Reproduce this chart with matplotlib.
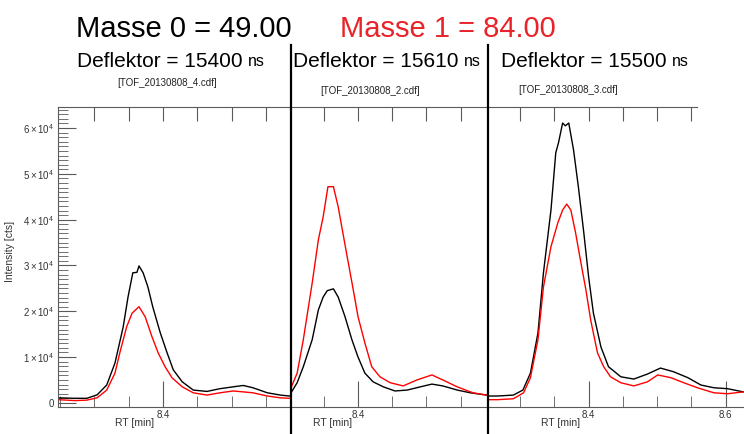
import numpy as np
import matplotlib
matplotlib.use("Agg")
import matplotlib.pyplot as plt
from matplotlib.lines import Line2D
from matplotlib.ticker import MultipleLocator, FixedLocator, FuncFormatter, NullLocator

plt.rcParams['font.family'] = ['Liberation Sans', 'DejaVu Sans']
plt.rcParams['mathtext.fontset'] = 'custom'
plt.rcParams['mathtext.rm'] = 'Liberation Sans'
plt.rcParams['mathtext.it'] = 'Liberation Sans:italic'

# Header texts
masse0 = "Masse 0 = 49.00"
masse1 = "Masse 1 = 84.00"
deflektor = ["15400", "15610", "15500"]
files = ["[TOF_20130808_4.cdf]", "[TOF_20130808_2.cdf]", "[TOF_20130808_3.cdf]"]

# Panel 1 (Deflektor 15400)
rt1_m0 = [8.247, 8.272, 8.289, 8.304, 8.318, 8.330, 8.342, 8.349, 8.356, 8.362, 8.365,
          8.371, 8.378, 8.385, 8.396, 8.406, 8.415, 8.428, 8.444, 8.464, 8.483, 8.502,
          8.517, 8.531, 8.552, 8.571, 8.584]
int1_m0 = [1100, 1000, 1000, 1750, 3900, 8700, 16600, 23100, 28400, 28500, 29900,
           28400, 25300, 21000, 15300, 10900, 7200, 4600, 2800, 2500, 3100, 3500,
           3800, 3300, 2200, 1700, 1500]
rt1_m1 = [8.247, 8.272, 8.289, 8.304, 8.318, 8.330, 8.337, 8.347, 8.355, 8.365, 8.374,
          8.384, 8.393, 8.403, 8.413, 8.428, 8.444, 8.464, 8.483, 8.502, 8.517, 8.531,
          8.552, 8.571, 8.584]
int1_m1 = [700, 500, 600, 1100, 2800, 6500, 10900, 16600, 19600, 21000, 18800,
           14400, 10900, 7900, 5500, 3500, 2200, 1700, 2200, 2600, 2400, 2200,
           1500, 1100, 1000]

# Panel 2 (Deflektor 15610)
rt2_m0 = [8.302, 8.311, 8.320, 8.333, 8.342, 8.349, 8.355, 8.364, 8.371, 8.381, 8.391,
          8.400, 8.410, 8.422, 8.437, 8.454, 8.472, 8.491, 8.508, 8.524, 8.545, 8.564, 8.588]
int2_m0 = [2200, 4400, 7900, 13800, 20300, 23100, 24500, 24900, 23100, 18800, 13800,
           10000, 6500, 4600, 3500, 2600, 2800, 3500, 4100, 3700, 2800, 2200, 1700]
rt2_m1 = [8.302, 8.311, 8.320, 8.333, 8.342, 8.349, 8.356, 8.364, 8.371, 8.377, 8.385,
          8.393, 8.400, 8.410, 8.420, 8.432, 8.447, 8.466, 8.486, 8.508, 8.524, 8.545,
          8.568, 8.588]
int2_m1 = [3300, 6500, 13800, 26200, 35600, 40600, 47200, 47200, 42800, 37800, 31200,
           24700, 18800, 13100, 7900, 5700, 4400, 3700, 5000, 6100, 5000, 3500,
           2200, 1700]

# Panel 3 (Deflektor 15500)
rt3_m0 = [8.253, 8.267, 8.290, 8.304, 8.315, 8.326, 8.334, 8.345, 8.352, 8.356, 8.362,
          8.366, 8.371, 8.378, 8.385, 8.393, 8.400, 8.407, 8.418, 8.429, 8.447, 8.466,
          8.486, 8.505, 8.524, 8.545, 8.564, 8.583, 8.603, 8.626]
int3_m0 = [1500, 1500, 1700, 2800, 6500, 15300, 28400, 42100, 54600, 56800, 61100,
           60500, 61100, 55200, 47200, 37100, 27500, 19600, 12200, 7900, 5700, 5200,
           6300, 7600, 6800, 5500, 3900, 3300, 3100, 2400]
rt3_m1 = [8.253, 8.267, 8.290, 8.305, 8.315, 8.326, 8.334, 8.345, 8.355, 8.362, 8.368,
          8.374, 8.381, 8.388, 8.396, 8.403, 8.413, 8.422, 8.432, 8.447, 8.466, 8.486,
          8.501, 8.520, 8.539, 8.559, 8.583, 8.603, 8.626]
int3_m1 = [700, 700, 900, 2200, 5500, 13800, 25300, 34100, 39300, 42100, 43400,
           42100, 37100, 31200, 24700, 18100, 10900, 7900, 5700, 4400, 3700, 4600,
           6100, 5500, 4400, 3300, 2200, 2000, 2400]

panels = [
    dict(xlim=(8.247, 8.585), m0=(rt1_m0, int1_m0), m1=(rt1_m1, int1_m1)),
    dict(xlim=(8.302, 8.590), m0=(rt2_m0, int2_m0), m1=(rt2_m1, int2_m1)),
    dict(xlim=(8.253, 8.627), m0=(rt3_m0, int3_m0), m1=(rt3_m1, int3_m1)),
]

W, H = 744, 434
fig = plt.figure(figsize=(W / 100, H / 100), dpi=100)

axc = '#5a5a5a'
txtc = '#333333'
red_txt = '#e8232a'

# pixel extents of the three plot boxes
boxes = [(58, 290), (291, 488), (488, 744)]
top_px, bot_px = 107, 407
label_x = [0.33, 0.213, 0.284]
top_ticks = [np.arange(8.30, 8.56, 0.05), np.arange(8.35, 8.56, 0.05), np.arange(8.30, 8.56, 0.05)]

for i, (p, (x0, x1)) in enumerate(zip(panels, boxes)):
    ax = fig.add_axes([x0 / W, (H - bot_px) / H, (x1 - x0) / W, (bot_px - top_px) / H])
    ax.plot(*p['m0'], color='black', lw=1.0)
    ax.plot(*p['m1'], color='red', lw=1.0)
    ax.set_xlim(*p['xlim'])
    ax.set_ylim(-900, 64600)

    for s in ['top', 'right']:
        ax.spines[s].set_visible(False)
    ax.spines['bottom'].set_color(axc)
    ax.spines['left'].set_color(axc)
    if i > 0:
        ax.spines['left'].set_visible(False)

    ax.xaxis.set_major_locator(MultipleLocator(0.2))
    ax.xaxis.set_minor_locator(MultipleLocator(0.05))
    ax.xaxis.set_major_formatter(FuncFormatter(lambda v, pos: f"{v:.1f}"))
    ax.tick_params(axis='x', which='both', direction='in', top=False, color=axc,
                   labelsize=7, labelcolor=txtc, pad=2)
    ax.tick_params(axis='x', which='major', length=19)
    ax.tick_params(axis='x', which='minor', length=8)
    ax.set_xlabel("RT [min]", fontsize=7.5, color=txtc)
    ax.xaxis.set_label_coords(label_x[i], -0.036)

    if i == 0:
        ax.yaxis.set_major_locator(MultipleLocator(10000))
        ax.yaxis.set_minor_locator(MultipleLocator(1000))
        ax.yaxis.set_major_formatter(FuncFormatter(
            lambda v, pos: "0" if abs(v) < 1 else r"$%d\times10^{4}$" % round(v / 1e4)))
        ax.tick_params(axis='y', which='both', direction='in', right=False, color=axc,
                       labelsize=7, labelcolor=txtc, pad=3)
        ax.tick_params(axis='y', which='major', length=13)
        ax.tick_params(axis='y', which='minor', length=7)
        ax.set_ylabel("Intensity [cts]", fontsize=7.5, color=txtc)
        ax.yaxis.set_label_coords(-0.185, 0.517)
    else:
        ax.tick_params(axis='y', which='both', left=False, labelleft=False)

    # top axis: evenly spaced long ticks, no labels
    sec = ax.secondary_xaxis('top')
    sec.xaxis.set_major_locator(FixedLocator(top_ticks[i]))
    sec.xaxis.set_minor_locator(NullLocator())
    sec.tick_params(direction='in', length=10, color=axc, labeltop=False)
    sec.spines['top'].set_color(axc)
    if i == 2:
        sec.spines['top'].set_bounds(p['xlim'][0], 8.559)

# divider lines between panels
for xp in (290.5, 488):
    fig.add_artist(Line2D([xp / W, xp / W], [0, 1 - 45 / H], color='black', lw=1.6))

# header
fig.text(76 / W, 1 - 37 / H, masse0, fontsize=21, color='black', va='baseline')
fig.text(340 / W, 1 - 37 / H, masse1, fontsize=21, color=red_txt, va='baseline')

defl_left = [77, 293, 501]
file_pos = [(167, 83), (370, 91), (568, 90)]
for d, f, xl, (fx, fy) in zip(deflektor, files, defl_left, file_pos):
    t = fig.text(xl / W, 1 - 67 / H, f"Deflektor = {d}", fontsize=15, va='baseline')
    fig.add_artist(plt.Annotation("ns", xy=(1, 0), xycoords=t, xytext=(4, 1.5),
                                  textcoords='offset points', fontsize=11.5,
                                  va='bottom', ha='left', annotation_clip=False))
    fig.text(fx / W, 1 - fy / H, f, fontsize=7, ha='center', va='center', color='#222222')

fig.savefig("out.png", dpi=100)
